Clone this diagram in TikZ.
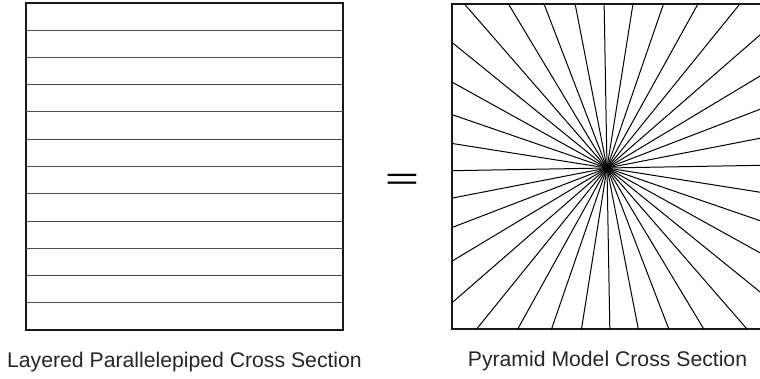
\documentclass[tikz,border=0pt]{standalone}
\usepackage{fontspec}
\setmainfont{Liberation Sans}
\usepackage{graphicx}
\usetikzlibrary{positioning}

\begin{document}
\begin{tikzpicture}[x=1pt,y=1pt,
  section/.style={draw=black!90,line width=2.3pt,minimum width=317pt,minimum height=327pt,inner sep=0pt,outer sep=0pt},
  layer/.style={draw=black!70,line width=1pt},
  ray/.style={draw=black,line width=1pt},
  caption/.style={font=\fontsize{21.2pt}{24pt}\selectfont,text=black!85,inner sep=0pt}]
\useasboundingbox (0,0) rectangle (760,378);
\node[section] (lay) at (184.5,211.5) {};
\foreach \k in {1,...,11}
  \draw[layer] ([yshift=-\k*27.25pt]lay.north west) -- ([yshift=-\k*27.25pt]lay.north east);
\node[section,minimum height=325pt] (pyr) at (610.5,211.5) {};
\coordinate (apex) at (607,210);
\begin{scope}
\clip (pyr.south west) rectangle (pyr.north east);
\foreach \a in {0,10,...,350}
  \draw[ray] (apex) -- ++(\a+1:260);
\end{scope}
\node[font=\fontsize{31pt}{31pt}\selectfont,inner sep=0pt] (eq) at (402,196) {\scalebox{1.9}[1]{=}};
\node[caption,below=21.5pt of lay] (laycap) {Layered Parallelepiped Cross Section};
\node[caption,below=21.5pt of pyr,xshift=-3pt] (pyrcap) {Pyramid Model Cross Section};
\end{tikzpicture}
\end{document}
